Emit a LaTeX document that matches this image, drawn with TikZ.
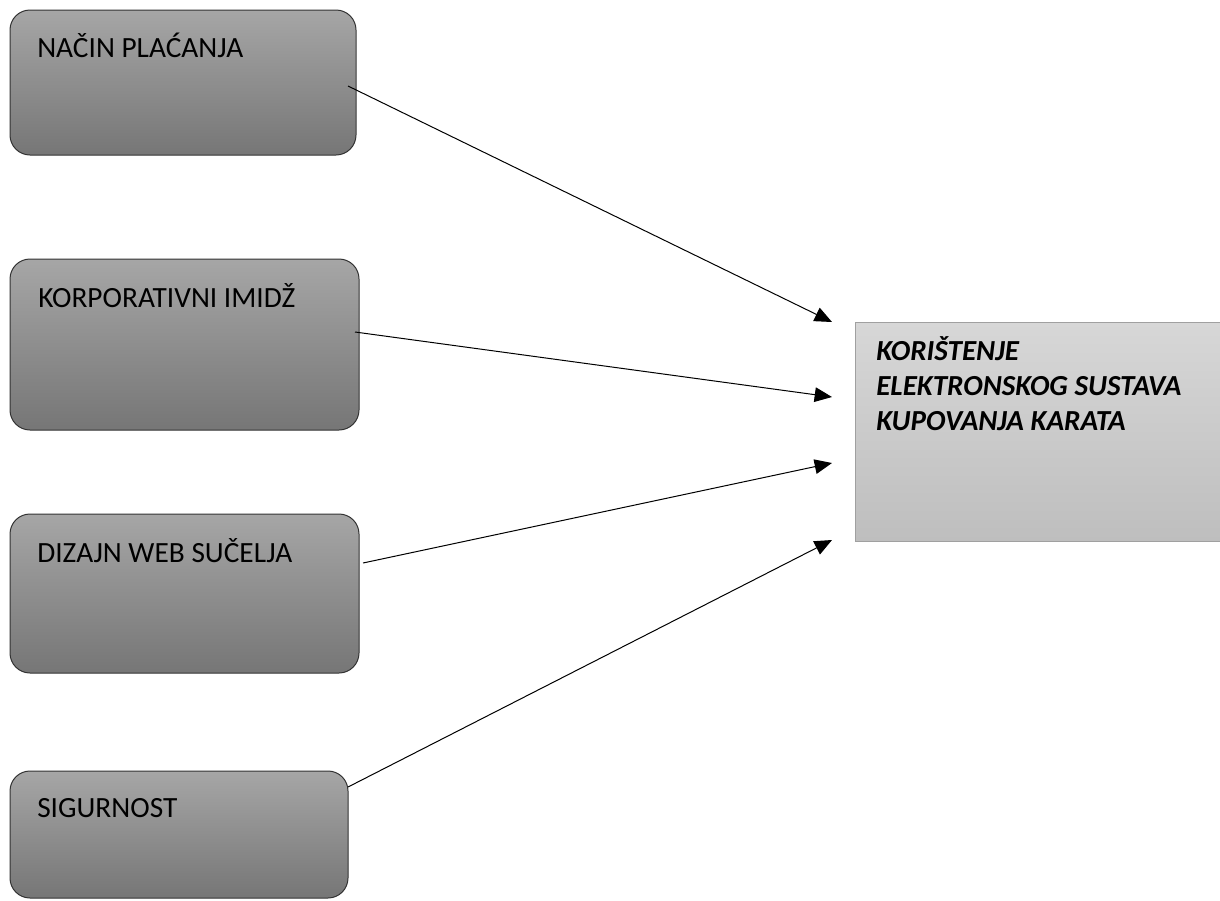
\documentclass[tikz,border=0pt]{standalone}
\usepackage{fontspec}
\setmainfont{Carlito}
\usetikzlibrary{arrows.meta}

\definecolor{boxtop}{RGB}{166,166,166}
\definecolor{boxbot}{RGB}{118,118,118}
\definecolor{goaltop}{RGB}{215,215,215}
\definecolor{goalbot}{RGB}{190,190,190}
\definecolor{goalline}{RGB}{160,160,160}

\begin{document}
\begin{tikzpicture}[x=0.75pt,y=-0.75pt,
  factor/.style={draw=black!80,line width=0.75pt,rounded corners=15pt,
    top color=boxtop,bottom color=boxbot,inner sep=0pt,outer sep=0pt},
  goal/.style={draw=goalline,line width=0.75pt,
    top color=goaltop,bottom color=goalbot,inner sep=0pt,outer sep=0pt},
  factortext/.style={anchor=base west,inner sep=0pt,font=\fontsize{22}{26}\selectfont},
  goaltext/.style={anchor=base west,inner sep=0pt,align=left,
    font=\fontsize{21.8}{26}\selectfont\bfseries\itshape},
  link/.style={line width=0.75pt,-{Triangle[length=13pt,width=11pt]}}]
\useasboundingbox (0,0) rectangle (1220,900);
%\draw[step=50,gray,very thin] (0,0) grid (1220,900); %background grid

% factors
\node[factor,minimum width=259.5pt,minimum height=108.75pt] (nacin) at (183,82.5) {};
\node[factor,minimum width=261.75pt,minimum height=128.25pt] (imidz) at (184.5,344.5) {};
\node[factor,minimum width=261.75pt,minimum height=119.25pt] (dizajn) at (184.5,593.5) {};
\node[factor,minimum width=253.5pt,minimum height=95.25pt] (sigurnost) at (179,834.5) {};

\node[factortext] (nacin-txt) at ([shift={(27,47)}]nacin.north west) {NAČIN PLAĆANJA};
\node[factortext] (imidz-txt) at ([shift={(28,48)}]imidz.north west) {KORPORATIVNI IMIDŽ};
\node[factortext] (dizajn-txt) at ([shift={(27,48)}]dizajn.north west) {DIZAJN WEB SUČELJA};
\node[factortext] (sigurnost-txt) at ([shift={(27,46)}]sigurnost.north west) {SIGURNOST};

% goal
\node[goal,minimum width=273.75pt,minimum height=164.25pt] (kupovanje) at (1037.5,431.5) {};
\node[goaltext] (kupovanje-txt) at ([shift={(21,108)}]kupovanje.north west)
  {KORIŠTENJE\\ELEKTRONSKOG SUSTAVA\\KUPOVANJA KARATA};

% arrow tips
\coordinate (t1) at (832,322);
\coordinate (t2) at (832,397);
\coordinate (t3) at (832,463);
\coordinate (t4) at (832,540);

\draw[link] ([shift={(-8,3.5)}]nacin.east) -- (t1);
\draw[link] ([shift={(-4,-12.5)}]imidz.east) -- (t2);
\draw[link] ([shift={(4,-30.5)}]dizajn.east) -- (t3);
\draw[link] ([shift={(0,-47.5)}]sigurnost.east) -- (t4);

\end{tikzpicture}
\end{document}
